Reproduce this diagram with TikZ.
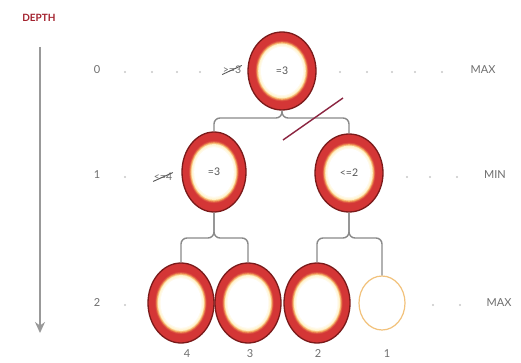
\documentclass[tikz,border=0pt]{standalone}
\usepackage{fontspec}
\setmainfont{Lato}
\usetikzlibrary{arrows.meta,shapes.geometric}
\definecolor{ringred}{HTML}{D43636}
\definecolor{ringdark}{HTML}{7A1A1A}
\definecolor{ringorange}{HTML}{F3A65E}
\definecolor{ringcream}{HTML}{FFF1C4}
\definecolor{txtgray}{HTML}{6E6E6E}
\definecolor{nodetxt}{HTML}{555555}
\definecolor{dotgray}{HTML}{C8C8C8}
\definecolor{conngray}{HTML}{8A8A8A}
\definecolor{depthred}{HTML}{A3222E}
\definecolor{slashred}{HTML}{8B2440}
\definecolor{openring}{HTML}{F2C27C}
\tikzset{
  searched/.style n args={2}{ellipse, draw=ringdark, line width=1.3pt, fill=ringred,
    inner sep=0pt, minimum width=2*#1 pt, minimum height=2*#2 pt, text=nodetxt,
    font=\fontsize{10.5}{10.5}\selectfont,
    path picture={
      \foreach \f/\c in {0.78/ringred!80!ringorange, 0.76/ringred!55!ringorange,
                        0.74/ringorange, 0.72/ringorange!60!ringcream,
                        0.70/ringcream, 0.68/ringcream!65!white,
                        0.65/ringcream!35!white, 0.62/white}
        \fill[\c] (path picture bounding box.center) ellipse [x radius=\f*#1, y radius=\f*#2];
    }},
  unseen/.style={ellipse, draw=openring, line width=1.2pt, fill=white, inner sep=0pt,
    minimum width=46pt, minimum height=54pt},
  conn/.style={draw=conngray, line width=1.4pt, rounded corners=6pt},
  lvl/.style={text=txtgray, font=\fontsize{11}{11}\selectfont, inner sep=1pt},
  dotm/.style={circle, fill=dotgray, inner sep=0pt, minimum size=2.4pt},
  struck/.style={text=txtgray, font=\fontsize{10.5}{10.5}\selectfont, inner sep=0.5pt},
  strikeline/.style={draw=txtgray!80!black, line width=0.9pt},
  depthlbl/.style={text=depthred, font=\fontsize{10}{10}\selectfont\bfseries},
  deptharrow/.style={draw=gray!80, line width=1.5pt, -{Stealth[length=11pt,width=10pt]}},
  prune/.style={draw=slashred, line width=1.4pt},
}
\begin{document}
\begin{tikzpicture}[x=1pt,y=-1pt]
\useasboundingbox[fill=white] (0,0) rectangle (521,363);

% depth axis
\node[depthlbl] (depth) at (39,18) {DEPTH};
\coordinate (atop) at (40,47);
\coordinate (abot) at (40,333);
\draw[deptharrow] (atop) -- (abot);

% level labels
\node[lvl] (l0) at (97,70) {0};
\node[lvl] (l1) at (97,175) {1};
\node[lvl] (l2) at (97,303) {2};
\node[lvl] (m0) at (483,70) {MAX};
\node[lvl] (m1) at (495,175) {MIN};
\node[lvl] (m2) at (499,303) {MAX};

% dots
\foreach \x in {125,152,177,200,340,367,392,415,442} \node[dotm] at (\x,72) {};
\foreach \x in {125,407,430,457} \node[dotm] at (\x,177) {};
\foreach \x in {125,433,460} \node[dotm] at (\x,305) {};

% tree nodes
\node[searched={34}{39}] (root) at (282,71) {=3};
\node[searched={32}{40}] (L) at (214,172) {=3};
\node[searched={34}{39}] (R) at (349,173) {<=2};
\node[searched={33}{40}] (a) at (181,303) {};
\node[searched={33}{40}] (b) at (248,303) {};
\node[searched={33}{40}] (c) at (317,303) {};
\node[unseen] (d) at (382,303) {};

% leaf values
\node[lvl] (va) at (187,354) {4};
\node[lvl] (vb) at (250,354) {3};
\node[lvl] (vc) at (318,354) {2};
\node[lvl] (vd) at (387,354) {1};

% struck bounds
\node[struck] (x0) at (232,70) {>=3};
\draw[strikeline] (x0.south west) -- (x0.north east);
\node[struck] (x1) at (163,177) {<=4};
\draw[strikeline] (x1.south west) -- (x1.north east);

% connectors
\coordinate (j0) at (282,118);
\coordinate (j1) at (214,238);
\coordinate (j2) at (349,238);
\draw[conn] (root.south) -- (root.south |- j0) -| (L.north);
\draw[conn] (root.south) -- (root.south |- j0) -| (R.north);
\draw[conn] (L.south) -- (L.south |- j1) -| (a.north);
\draw[conn] (L.south) -- (L.south |- j1) -| (b.north);
\draw[conn] (R.south) -- (R.south |- j2) -| (c.north);
\draw[conn] (R.south) -- (R.south |- j2) -| (d.north);

% pruning mark
\coordinate (p1) at (283,140);
\coordinate (p2) at (343,98);
\draw[prune] (p1) -- (p2);
\end{tikzpicture}
\end{document}
